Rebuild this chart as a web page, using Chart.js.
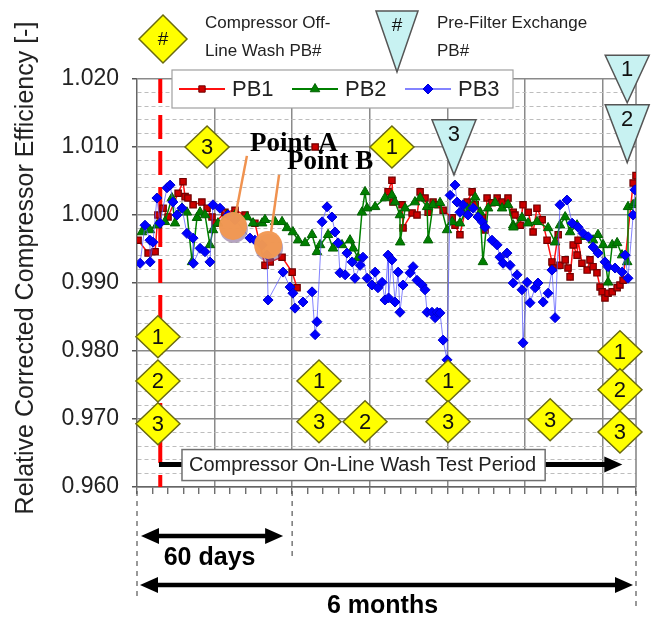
<!DOCTYPE html>
<html><head><meta charset="utf-8">
<script src="https://cdn.jsdelivr.net/npm/chart.js@4"></script>
<style>html,body{margin:0;padding:0;background:#fff}canvas{display:block}</style>
</head><body>
<canvas id="c" width="659" height="621"></canvas>
<script>
// ---- data (x = days from start of test, y = relative corrected efficiency) ----
const seriesNames = ['PB1', 'PB2', 'PB3'];
const pb1Days = [0.4,4.3,7.0,8.1,10.1,12.0,15.9,17.8,18.6,19.7,21.7,25.1,27.1,29.0,30.2,34.0,37.9,41.8,45.6,49.5,51.5,56.1,60.0,61.9,65,68.9,80,97.1,98.6,99.0,102.5,102.9,106.4,108.3,109.5,111.4,112.6,114.5,116.4,118.4,121.9,123.0,124.9,127.7,129.6,130.8,133.5,134.6,135.4,137.3,139.3,141.2,143.5,145.5,146.2,148.2,149.3,151.3,153.2,154.7,156.7,158.6,160.5,160.9,162.9,163.6,165.6,166.7,167.5,168.7,170.2,170.6,172.1,174.1,175.2,176.4,177.9,179.1,179.9,181.0,182.2,183.8,185.7,186.8,188.0,191.9,193.0];
const pb1Values = [0.9963,0.9944,0.9946,1.0000,1.0010,0.9997,1.0032,1.0049,1.0027,1.0025,1.0015,1.0019,1.0010,0.9997,0.9988,1.0004,1.0007,1.0000,0.9988,0.9926,0.9931,0.9938,0.9916,0.9893,null,1.0100,null,1.0034,1.0051,1.0019,1.0015,0.9981,1.0003,1.0000,1.0034,1.0025,1.0004,1.0019,1.0015,1.0007,0.9996,0.9985,0.9971,1.0019,1.0034,1.0015,0.9996,0.9978,1.0025,1.0018,1.0025,1.0019,1.0025,1.0004,1.0000,0.9985,1.0015,1.0004,0.9975,1.0010,0.9993,0.9963,0.9931,0.9922,0.9971,0.9926,0.9934,0.9922,0.9909,0.9956,0.9941,0.9963,0.9929,0.9919,0.9934,0.9924,0.9915,0.9894,0.9887,0.9878,0.9885,0.9887,0.9893,0.9897,0.9904,1.0047,1.0058];
const pb2Days = [1.9,5.0,7.7,10.8,13.5,14.7,17.4,19.3,21.3,23.2,24.4,26.3,28.2,29.4,31.3,34.8,37.9,42.6,44.9,48.4,49.5,53.4,56.1,58.0,60.3,62.3,65.0,67.7,69.6,70.8,73.9,75.8,79.3,82.4,83.6,85.5,87.0,88.2,89.0,92.1,95.9,98.6,99.8,101.7,101.8,103.7,107.5,109.5,112.2,112.6,114.5,117.2,119.9,121.9,124.9,127.7,130.8,132.7,133.8,135.8,138.5,141.2,143.5,145.5,145.6,148.9,151.3,154.7,159.0,161.7,163.6,165.6,167.5,170.2,173.3,176.4,178.3,180.3,182.2,183.8,185.7,187.6,189.6,189.9,191.9,193.0];
const pb2Values = [0.9975,0.9978,0.9985,0.9990,1.0025,0.9988,1.0010,1.0004,0.9931,0.9996,1.0004,1.0000,0.9956,0.9978,0.9988,1.0000,1.0000,0.9997,0.9988,0.9988,0.9993,0.9990,0.9990,0.9981,0.9975,0.9963,0.9959,0.9971,0.9946,0.9956,0.9971,0.9951,0.9956,0.9963,0.9951,0.9937,1.0004,1.0034,1.0010,1.0012,1.0025,1.0029,1.0019,1.0000,0.9960,1.0010,1.0019,1.0025,1.0012,0.9963,1.0015,1.0018,0.9978,0.9990,0.9988,1.0010,1.0026,1.0004,0.9931,1.0010,1.0018,1.0010,1.0015,0.9985,0.9982,0.9996,0.9988,0.9990,0.9981,0.9960,0.9985,0.9997,0.9975,0.9985,0.9968,0.9963,0.9971,0.9956,0.9901,0.9956,0.9959,0.9941,0.9931,1.0012,1.0015,1.0018];
const pb3Days = [1.2,3.1,5.0,5.1,6.2,7.7,8.9,11.6,12.8,13.9,15.5,17.4,19.3,21.7,21.8,24.4,26.3,28.2,29.4,32.1,35.2,37.9,43.7,45.6,48.4,50.3,50.7,56.5,59.2,60.3,61.1,64.2,67.7,68.9,69.6,71.6,73.5,75.4,76.6,77.8,78.5,80.5,81.2,83.2,84.3,86.3,87.4,89.0,90.9,92.1,93.2,94.8,95.9,97.1,97.3,98.6,99.8,101.0,101.7,102.9,105.6,106.8,108.3,110.3,111.4,112.2,114.1,115.3,116.1,117.2,118.4,119.9,121.1,123.0,123.8,124.9,126.1,128.0,130.0,131.9,133.5,134.6,137.3,139.3,140.4,141.6,143.1,144.3,145.5,147.0,148.9,149.3,150.9,152.0,154.0,155.1,157.1,159.0,160.5,161.7,163.6,166.3,168.3,170.6,172.5,174.5,176.4,178.3,181.0,182.2,184.9,187.6,188.8,189.9,191.9,192.6];
const pb3Values = [0.9929,0.9985,0.9963,0.9931,0.9960,1.0025,0.9988,1.0040,1.0044,1.0019,1.0000,1.0010,0.9973,0.9966,0.9929,0.9951,0.9946,0.9931,1.0015,1.0010,1.0000,0.9993,0.9966,0.9963,0.9956,0.9941,0.9875,0.9916,0.9894,0.9885,0.9863,0.9872,0.9887,0.9824,0.9843,0.9990,1.0012,0.9997,0.9975,0.9959,0.9915,0.9912,0.9944,0.9931,0.9907,0.9926,0.9938,0.9907,0.9897,0.9916,0.9893,0.9901,0.9875,0.9941,0.9878,0.9934,0.9872,0.9916,0.9857,0.9897,0.9915,0.9924,0.9904,0.9897,0.9890,0.9857,0.9857,0.9849,0.9857,0.9856,0.9816,0.9787,1.0029,1.0044,1.0019,1.0004,1.0015,1.0000,1.0010,0.9997,0.9990,0.9982,0.9963,0.9956,0.9938,0.9929,0.9944,0.9926,0.9900,0.9912,0.9890,0.9812,0.9901,0.9871,0.9893,0.9900,0.9872,0.9885,0.9919,0.9849,1.0015,1.0022,0.9988,0.9982,0.9973,0.9968,0.9953,0.9944,0.9931,0.9924,0.9922,0.9916,0.9941,0.9907,1.0000,1.0037];

// event markers: compressor off-line wash (diamonds) and pre-filter exchange (triangles)
const offlineWashDays   = [27.1, 98.6, 8.1, 8.1, 8.1, 70.4, 70.4, 88.2, 120.3, 120.3, 159.8, 186.8, 186.8, 186.8];
const offlineWashLevels = [1.0100, 1.0100, 0.9821, 0.9756, 0.9693, 0.9756, 0.9696, 0.9696, 0.9756, 0.9696, 0.9699, 0.9799, 0.9743, 0.9681];
const offlineWashUnits  = ['3','1','1','2','3','1','3','2','1','3','3','1','2','3'];
const prefilterDays   = [122.6, 189.6, 189.6];
const prefilterTops   = [1.0140, 1.0235, 1.0162];
const prefilterApexes = [1.0059, 1.0165, 1.0077];
const prefilterUnits  = ['3','1','2'];
const washStartDay = 9;            // red dashed line: start of on-line wash test
const testPeriod = [8.5, 187.7];   // on-line wash test period arrow
const pointA = [37.1, 0.9984];
const pointB = [50.7, 0.9956];
const spanShort = 60;              // "60 days"
const spanLong = 193;              // "6 months"
const xMin = 0, xMax = 193, yMin = 0.960, yMax = 1.020;

const FONT = '"Liberation Sans", Arial, Helvetica, sans-serif';
const zip = (d, v) => d.map((x, i) => ({ x: x, y: v[i] }));

function diamond(ctx, cx, cy, hw, hh, label, fs) {
  ctx.save();
  ctx.beginPath();
  ctx.moveTo(cx, cy - hh); ctx.lineTo(cx + hw, cy); ctx.lineTo(cx, cy + hh); ctx.lineTo(cx - hw, cy); ctx.closePath();
  ctx.fillStyle = '#ffff00'; ctx.fill();
  ctx.lineWidth = 1.5; ctx.strokeStyle = '#6a6a10'; ctx.stroke();
  ctx.fillStyle = '#111'; ctx.font = fs + 'px ' + FONT; ctx.textAlign = 'center'; ctx.textBaseline = 'middle';
  ctx.fillText(label, cx, cy + 1);
  ctx.restore();
}
function triangle(ctx, cx, top, apex, hw, label, fs) {
  ctx.save();
  ctx.beginPath();
  ctx.moveTo(cx - hw, top); ctx.lineTo(cx + hw, top); ctx.lineTo(cx, apex); ctx.closePath();
  ctx.fillStyle = '#c8f2f2'; ctx.fill();
  ctx.lineWidth = 1.5; ctx.strokeStyle = '#555'; ctx.stroke();
  ctx.fillStyle = '#111'; ctx.font = fs + 'px ' + FONT; ctx.textAlign = 'center'; ctx.textBaseline = 'middle';
  ctx.fillText(label, cx, top + 15);
  ctx.restore();
}
function head(ctx, x, y, dir, len, hw) {
  ctx.beginPath(); ctx.moveTo(x, y); ctx.lineTo(x - dir * len, y - hw); ctx.lineTo(x - dir * len, y + hw); ctx.closePath(); ctx.fill();
}

const overlay = {
  id: 'overlay',
  beforeDatasetsDraw(chart) {
    const { ctx, chartArea: a, scales: { x, y } } = chart;
    ctx.save();
    // right border
    ctx.strokeStyle = '#808080'; ctx.lineWidth = 1.5;
    ctx.beginPath(); ctx.moveTo(a.right, a.top); ctx.lineTo(a.right, a.bottom); ctx.stroke();
    // red dashed wash-start line
    const xs = x.getPixelForValue(washStartDay);
    ctx.strokeStyle = '#ff0000'; ctx.lineWidth = 4; ctx.setLineDash([24, 12]);
    ctx.beginPath(); ctx.moveTo(xs, a.top); ctx.lineTo(xs, a.bottom); ctx.stroke();
    ctx.restore();
  },
  afterDatasetsDraw(chart) {
    const { ctx, chartArea: a, scales: { x, y } } = chart;
    ctx.save();
    // ---- legend box ----
    const lx = a.left + 35, ly = a.top - 9, lw = 341, lh = 38;
    ctx.fillStyle = '#fff'; ctx.fillRect(lx, ly, lw, lh);
    ctx.strokeStyle = '#a0a0a0'; ctx.lineWidth = 1.2; ctx.strokeRect(lx, ly, lw, lh);
    const ds = chart.data.datasets;
    const items = [lx + 7, lx + 120, lx + 233];
    items.forEach((ix, i) => {
      const cy = ly + lh / 2;
      ctx.strokeStyle = ds[i].borderColor; ctx.lineWidth = 2;
      ctx.beginPath(); ctx.moveTo(ix, cy); ctx.lineTo(ix + 46, cy); ctx.stroke();
      ctx.fillStyle = ds[i].pointBackgroundColor; ctx.strokeStyle = ds[i].pointBorderColor; ctx.lineWidth = 1;
      Chart.helpers.drawPoint(ctx, { pointStyle: ds[i].pointStyle, radius: ds[i].pointRadius, borderWidth: 1 }, ix + 23, cy);
      ctx.fillStyle = '#222'; ctx.font = '22px ' + FONT; ctx.textAlign = 'left'; ctx.textBaseline = 'middle';
      ctx.fillText(seriesNames[i], ix + 53, cy + 1);
    });
    // ---- top key ----
    diamond(ctx, 163, 39, 24, 24, '#', 19);
    ctx.fillStyle = '#222'; ctx.font = '17px ' + FONT; ctx.textAlign = 'left'; ctx.textBaseline = 'middle';
    ctx.fillText('Compressor Off-', 205, 23);
    ctx.fillText('Line Wash PB#', 205, 51);
    triangle(ctx, 397, 11, 72, 21, '#', 19);
    ctx.fillStyle = '#222'; ctx.font = '17px ' + FONT; ctx.textAlign = 'left'; ctx.textBaseline = 'middle';
    ctx.fillText('Pre-Filter Exchange', 437, 23);
    ctx.fillText('PB#', 437, 51);
    // ---- test period arrow and box ----
    const ay = y.getPixelForValue(0.9633);
    const ax0 = x.getPixelForValue(testPeriod[0]), ax1 = x.getPixelForValue(testPeriod[1]);
    ctx.fillStyle = '#000'; ctx.strokeStyle = '#000'; ctx.lineWidth = 5;
    ctx.beginPath(); ctx.moveTo(ax0, ay); ctx.lineTo(ax1 - 12, ay); ctx.stroke();
    head(ctx, ax1, ay, 1, 18, 8);
    const boxText = 'Compressor On-Line Wash Test Period';
    ctx.font = '20px ' + FONT;
    const bw = ctx.measureText(boxText).width + 16;
    const bx = x.getPixelForValue(17.4);
    ctx.fillStyle = '#fff'; ctx.fillRect(bx, ay - 15, bw, 31);
    ctx.strokeStyle = '#707070'; ctx.lineWidth = 1.5; ctx.strokeRect(bx, ay - 15, bw, 31);
    ctx.fillStyle = '#222'; ctx.textAlign = 'left'; ctx.textBaseline = 'middle';
    ctx.fillText(boxText, bx + 7, ay + 1);
    // ---- event markers ----
    offlineWashDays.forEach((d, i) => {
      diamond(ctx, x.getPixelForValue(d), y.getPixelForValue(offlineWashLevels[i]), 22, 21, offlineWashUnits[i], 22);
    });
    prefilterDays.forEach((d, i) => {
      triangle(ctx, x.getPixelForValue(d), y.getPixelForValue(prefilterTops[i]), y.getPixelForValue(prefilterApexes[i]), 22, prefilterUnits[i], 22);
    });
    // ---- Point A / Point B ----
    const pts = [[pointA, 'Point A', 17, -84, 18, -76], [pointB, 'Point B', 19, -85, 15, -76]];
    pts.forEach(([p, label, tx, ty, lx2, ly2]) => {
      const px = x.getPixelForValue(p[0]), py = y.getPixelForValue(p[1]);
      ctx.fillStyle = 'rgba(120,90,140,0.55)';
      ctx.beginPath(); ctx.arc(px + 1, py + 3, 14, 0, Math.PI * 2); ctx.fill();
      ctx.fillStyle = 'rgba(242,152,82,0.97)';
      ctx.beginPath(); ctx.arc(px, py, 14, 0, Math.PI * 2); ctx.fill();
      ctx.strokeStyle = '#f0924f'; ctx.lineWidth = 2.5;
      ctx.beginPath(); ctx.moveTo(px + 3, py - 13); ctx.lineTo(px + lx2 - 4, py + ly2 + 6); ctx.stroke();
      ctx.fillStyle = '#000'; ctx.font = 'bold 27px "Liberation Serif", "Times New Roman", serif';
      ctx.textAlign = 'left'; ctx.textBaseline = 'alphabetic';
      ctx.fillText(label, px + tx, py + ty + 9);
    });
    ctx.restore();
  },
  afterDraw(chart) {
    const { ctx, chartArea: a, scales: { x, y } } = chart;
    ctx.save();
    // y-axis title
    ctx.translate(26, 268); ctx.rotate(-Math.PI / 2);
    ctx.fillStyle = '#222'; ctx.font = '25px ' + FONT; ctx.textAlign = 'center'; ctx.textBaseline = 'middle';
    ctx.fillText('Relative Corrected Compressor Efficiency [-]', 0, 0);
    ctx.restore();
    ctx.save();
    // span markers below axis
    const x0 = x.getPixelForValue(0), x60 = x.getPixelForValue(spanShort), x6m = x.getPixelForValue(spanLong);
    ctx.strokeStyle = '#555'; ctx.lineWidth = 1.2; ctx.setLineDash([5, 5]);
    [[x0, 600], [x60, 556], [x6m, 606]].forEach(([xx, yb]) => {
      ctx.beginPath(); ctx.moveTo(xx, a.bottom + 4); ctx.lineTo(xx, yb); ctx.stroke();
    });
    ctx.setLineDash([]);
    ctx.strokeStyle = '#000'; ctx.fillStyle = '#000'; ctx.lineWidth = 4.5;
    const dbl = (xa, xb, yy) => {
      ctx.beginPath(); ctx.moveTo(xa + 12, yy); ctx.lineTo(xb - 12, yy); ctx.stroke();
      head(ctx, xa, yy, -1, 18, 8); head(ctx, xb, yy, 1, 18, 8);
    };
    dbl(x0 + 4, x60 - 9, 536);
    dbl(x0 + 3, x6m - 3, 585);
    ctx.font = 'bold 25px ' + FONT; ctx.textAlign = 'center'; ctx.textBaseline = 'middle';
    ctx.fillText('60 days', (x0 + x60) / 2 - 5, 558);
    ctx.fillText('6 months', (x0 + x6m) / 2 - 4, 606);
    ctx.restore();
  }
};

const isMajorY = v => Math.abs(Math.round(v * 100) - v * 100) < 1e-6;

new Chart(document.getElementById('c'), {
  type: 'line',
  data: {
    datasets: [
      { label: seriesNames[0], data: zip(pb1Days, pb1Values), order: 3, borderColor: '#ff1010', borderWidth: 1.5,
        pointStyle: 'rect', pointRadius: 4.5, pointBackgroundColor: '#cc0000', pointBorderColor: '#700000', pointBorderWidth: 1.2, spanGaps: false },
      { label: seriesNames[1], data: zip(pb2Days, pb2Values), order: 2, borderColor: '#008000', borderWidth: 1.5,
        pointStyle: 'triangle', pointRadius: 5.5, pointBackgroundColor: '#008000', pointBorderColor: '#006000', pointBorderWidth: 1 },
      { label: seriesNames[2], data: zip(pb3Days, pb3Values), order: 1, borderColor: 'rgba(90,90,255,0.75)', borderWidth: 1,
        pointStyle: 'rectRot', pointRadius: 5, pointBackgroundColor: '#0000ff', pointBorderColor: '#0000d0', pointBorderWidth: 1 }
    ]
  },
  options: {
    responsive: false, animation: false, devicePixelRatio: 1,
    layout: { padding: { top: 79, right: 23, bottom: 0, left: 0 } },
    plugins: { legend: { display: false }, tooltip: { enabled: false } },
    scales: {
      x: {
        type: 'linear', min: xMin, max: xMax,
        afterFit: s => { s.height = 134; },
        ticks: { display: false, stepSize: 6, autoSkip: false },
        grid: { color: c => (c.tick && c.tick.value % 30 === 0 && c.tick.value > 0) ? '#8a8a8a' : 'rgba(0,0,0,0)',
                lineWidth: 1.5, tickColor: '#555', tickLength: 7, tickWidth: 1.2 },
        border: { display: true, color: '#666', width: 1.5 }
      },
      y: {
        type: 'linear', min: yMin, max: yMax,
        afterFit: s => { s.width = 137; },
        ticks: { stepSize: 0.002, autoSkip: false, padding: 13, color: '#222', font: { family: FONT, size: 23 },
                 callback: v => isMajorY(v) ? v.toFixed(3) : '' },
        grid: { color: c => (c.tick && isMajorY(c.tick.value)) ? '#8a8a8a' : '#bdbdbd',
                lineWidth: c => (c.tick && isMajorY(c.tick.value)) ? 1.5 : 1,
                tickColor: c => (c.tick && isMajorY(c.tick.value)) ? '#555' : 'rgba(0,0,0,0)', tickLength: 5 },
        border: { display: true, color: '#666', width: 1.5,
                  dash: c => (c.tick && isMajorY(c.tick.value)) ? [] : [4, 3] }
      }
    }
  },
  plugins: [overlay]
});
</script>
</body></html>
